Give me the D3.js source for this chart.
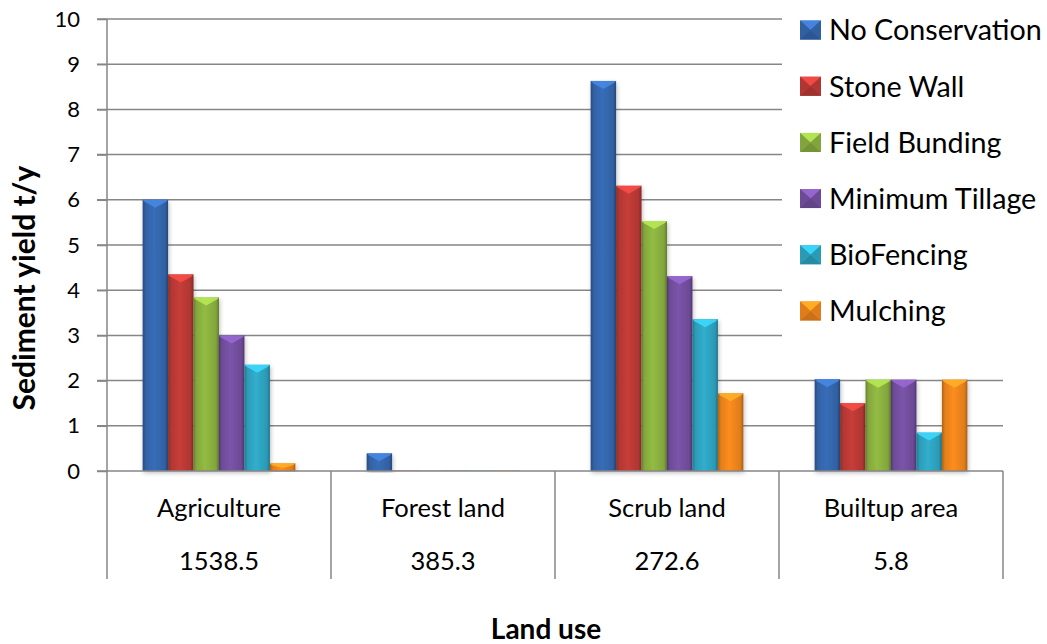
<!DOCTYPE html>
<html>
<head>
<meta charset="utf-8">
<script src="https://cdn.jsdelivr.net/npm/d3@7"></script>
<style>
  body { margin: 0; background: #fff; }
  svg { display: block; }
  text { font-family: Lato, "Open Sans", sans-serif; fill: #000; }
</style>
</head>
<body>
<svg id="chart" width="1047" height="644"></svg>
<script>
// Land-use categories and their areas (shown as a second row under the axis)
const landUses = ["Agriculture", "Forest land", "Scrub land", "Builtup area"];
const landAreas = ["1538.5", "385.3", "272.6", "5.8"];

// Conservation measures (series)
const measures = ["No Conservation", "Stone Wall", "Field Bunding", "Minimum Tillage", "BioFencing", "Mulching"];

// Sediment yield (t/y) per land use, one array per measure
const noConservation = [6.0, 0.39, 8.63, 2.03];
const stoneWall      = [4.35, 0.01, 6.31, 1.50];
const fieldBunding   = [3.84, 0.01, 5.53, 2.02];
const minimumTillage = [3.0, 0.01, 4.31, 2.02];
const bioFencing     = [2.35, 0.01, 3.36, 0.85];
const mulching       = [0.17, 0.01, 1.72, 2.02];

const yTicks = [0, 1, 2, 3, 4, 5, 6, 7, 8, 9, 10];

const seriesValues = [noConservation, stoneWall, fieldBunding, minimumTillage, bioFencing, mulching];
const seriesColors = ["#3567ad", "#bc3a36", "#8bb140", "#7450a0", "#2ea5c2", "#f0861d"];

const svg = d3.select("#chart");
const plotLeft = 107, plotRight = 1003, plotTop = 19, plotBottom = 471, tableBottom = 579;

const x = d3.scaleBand().domain(landUses).range([plotLeft, plotRight]).paddingInner(0).paddingOuter(0);
const xs = d3.scaleBand().domain(measures).range([0, x.bandwidth()]).paddingInner(0).paddingOuter(1.4);
const y = d3.scaleLinear().domain([0, 10]).range([plotBottom, plotTop]);

// gradients and shadow
const defs = svg.append("defs");
measures.forEach((m, i) => {
  const c = d3.color(seriesColors[i]);
  const g = defs.append("linearGradient").attr("id", "g" + i)
    .attr("x1", "0%").attr("x2", "100%").attr("y1", "0%").attr("y2", "0%");
  g.append("stop").attr("offset", "0%").attr("stop-color", c.darker(0.9));
  g.append("stop").attr("offset", "12%").attr("stop-color", c.darker(0.15));
  g.append("stop").attr("offset", "45%").attr("stop-color", c.brighter(0.15));
  g.append("stop").attr("offset", "88%").attr("stop-color", c.darker(0.2));
  g.append("stop").attr("offset", "100%").attr("stop-color", c.darker(1.0));
});
const sh = defs.append("filter").attr("id", "shadow").attr("x", "-20%").attr("y", "-5%").attr("width", "140%").attr("height", "115%");
sh.append("feDropShadow").attr("dx", 1).attr("dy", 2).attr("stdDeviation", 2).attr("flood-color", "#000").attr("flood-opacity", 0.25);

// gridlines
svg.append("g").selectAll("line").data(yTicks.filter(d => d > 0)).join("line")
  .attr("x1", plotLeft - 10).attr("x2", plotRight)
  .attr("y1", d => y(d)).attr("y2", d => y(d))
  .attr("stroke", "#868686").attr("stroke-width", 1.5);

// y axis
const yAxis = d3.axisLeft(y).tickValues(yTicks).tickSize(10).tickPadding(17).tickFormat(d3.format("d"));
const ya = svg.append("g").attr("transform", `translate(${plotLeft},0)`).call(yAxis);
ya.select(".domain").remove();
ya.selectAll(".tick line").attr("stroke", "#868686").attr("stroke-width", 1.5);
ya.selectAll(".tick text").attr("font-size", 22).attr("font-family", "Lato, sans-serif").attr("fill", "#000");

// bars
const groups = svg.append("g").selectAll("g").data(landUses).join("g")
  .attr("transform", d => `translate(${x(d)},0)`);

groups.each(function(lu, li) {
  const g = d3.select(this);
  measures.forEach((m, si) => {
    const v = seriesValues[si][li];
    const bx = xs(m), bw = xs.bandwidth();
    const by = y(v), bh = y(0) - y(v);
    const c = d3.color(seriesColors[si]);
    g.append("rect")
      .attr("x", bx).attr("y", by).attr("width", bw).attr("height", bh)
      .attr("fill", `url(#g${si})`).attr("filter", "url(#shadow)");
    if (bh > 3) {
      const bev = Math.min(8, bh * 0.6);
      g.append("path")
        .attr("d", `M${bx},${by} L${bx + bw},${by} L${bx + bw - 2},${by + 2} L${bx + bw / 2},${by + bev} L${bx + 2},${by + 2} Z`)
        .attr("fill", c.brighter(0.8)).attr("opacity", 0.85);
    }
  });
});

// axis frame: x axis line, vertical axis and table separators
svg.append("line").attr("x1", plotLeft - 10).attr("x2", plotRight).attr("y1", plotBottom).attr("y2", plotBottom)
  .attr("stroke", "#868686").attr("stroke-width", 1.5);
const seps = landUses.map(d => x(d)).concat([x(landUses[landUses.length - 1]) + x.bandwidth()]);
svg.append("g").selectAll("line").data(seps).join("line")
  .attr("x1", d => d).attr("x2", d => d)
  .attr("y1", (d, i) => i === 0 ? plotTop : plotBottom).attr("y2", tableBottom)
  .attr("stroke", "#868686").attr("stroke-width", 1.5);

// category labels and areas
svg.append("g").selectAll("text").data(landUses).join("text")
  .attr("x", d => x(d) + x.bandwidth() / 2).attr("y", 517)
  .attr("text-anchor", "middle").attr("font-size", 25.5).text(d => d);
svg.append("g").selectAll("text").data(landAreas).join("text")
  .attr("x", (d, i) => x(landUses[i]) + x.bandwidth() / 2).attr("y", 570)
  .attr("text-anchor", "middle").attr("font-size", 25.5).text(d => d);

// legend
const ly = d3.scaleBand().domain(measures).range([2, 339]);
svg.append("rect").attr("x", 782).attr("y", 6).attr("width", 265).attr("height", 336).attr("fill", "#fff");
const lg = svg.append("g").selectAll("g").data(measures).join("g")
  .attr("transform", d => `translate(800,${ly(d) + ly.bandwidth() / 2})`);
lg.each(function(m, i) {
  const g = d3.select(this);
  const c = d3.color(seriesColors[i]);
  const w = 21, h = 19, t = -h / 2;
  g.append("rect").attr("x", 0).attr("y", t).attr("width", w).attr("height", h).attr("fill", c);
  g.append("path").attr("d", `M0,${t} L${w},${t} L${w / 2},${t + h / 2} Z`).attr("fill", c.brighter(0.7));
  g.append("path").attr("d", `M0,${t + h} L${w},${t + h} L${w / 2},${t + h / 2} Z`).attr("fill", c.darker(0.5));
  g.append("path").attr("d", `M0,${t} L0,${t + h} L${w / 2},${t + h / 2} Z`).attr("fill", c.darker(0.2));
  g.append("path").attr("d", `M${w},${t} L${w},${t + h} L${w / 2},${t + h / 2} Z`).attr("fill", c.darker(0.2));
  g.append("text").attr("x", 29).attr("y", 0).attr("dy", "0.36em")
    .attr("font-size", 28.7).text(m);
});

// axis titles
svg.append("text").attr("transform", "translate(35,288) rotate(-90)")
  .attr("text-anchor", "middle").attr("font-size", 30).attr("font-weight", "bold")
  .text("Sediment yield t/y");
svg.append("text").attr("x", 546).attr("y", 639)
  .attr("text-anchor", "middle").attr("font-size", 28).attr("font-weight", "bold")
  .text("Land use");
</script>
</body>
</html>
